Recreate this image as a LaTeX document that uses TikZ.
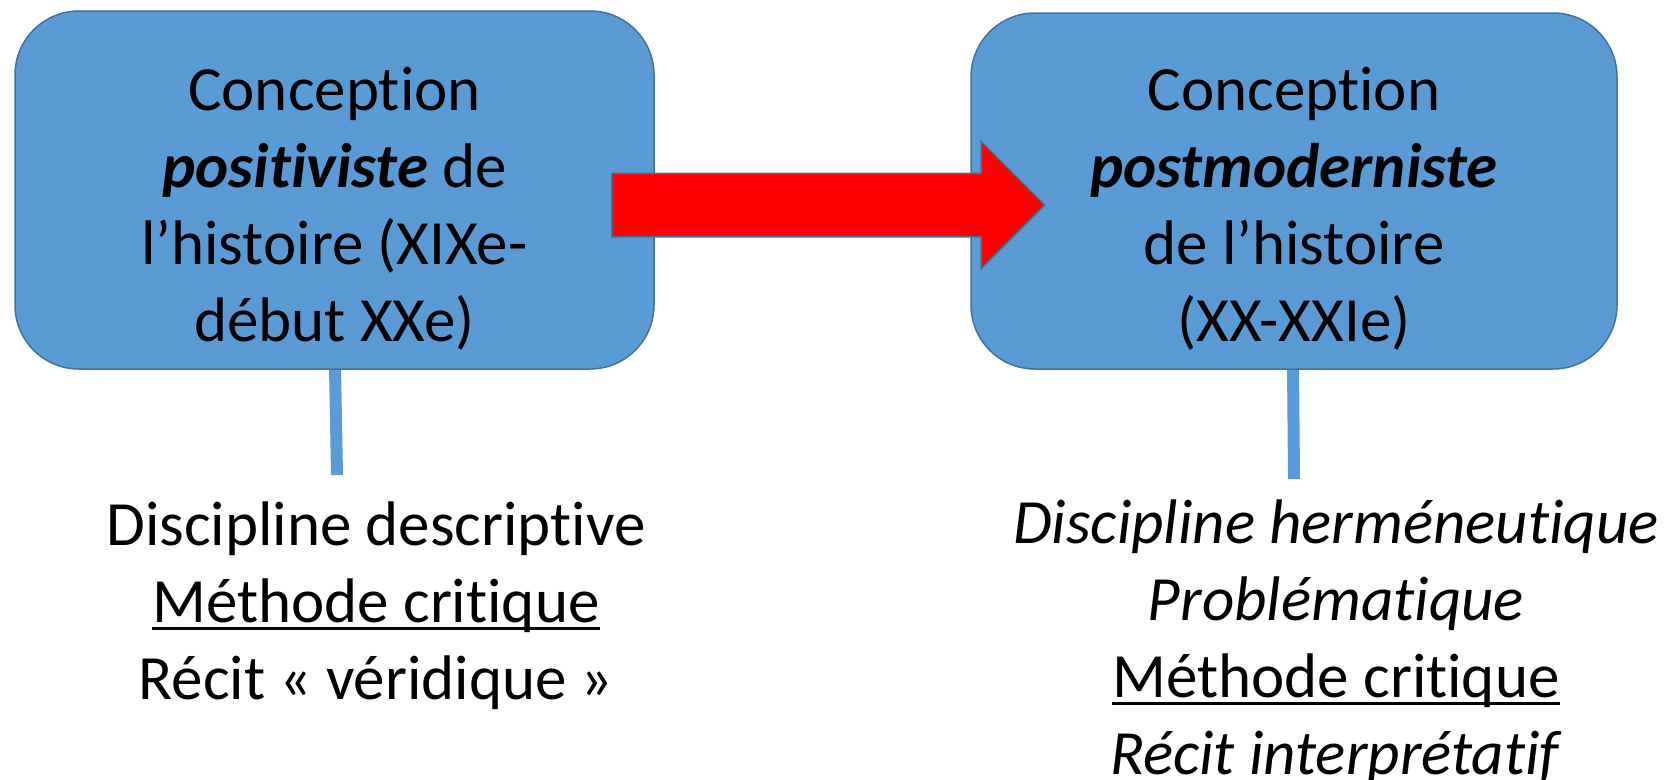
\documentclass[tikz,border=0pt]{standalone}
\usepackage{fontspec}
\setmainfont{Carlito}[Ligatures=NoCommon]
\usetikzlibrary{shapes.arrows}
\definecolor{boxblue}{HTML}{5B9BD5}
\definecolor{boxline}{HTML}{41719C}
% underline with a fixed offset and thickness
\newcommand\ulword[1]{\setbox0\hbox{#1}\rlap{\rule[-0.13em]{\wd0}{0.05em}}\box0}
\begin{document}
\begin{tikzpicture}[x=1pt,y=-1pt,
  panel/.style={draw=boxline, line width=1.5pt, fill=boxblue, rounded corners=64pt, inner sep=0pt},
  bigtext/.style={font=\fontsize{63}{77}\selectfont, align=center, anchor=north, inner sep=0pt},
  stem/.style={draw=boxblue, line width=12pt},
  bigarrow/.style={single arrow, draw=boxline, line width=1.5pt, fill=red,
    inner xsep=0pt, inner ysep=31pt, single arrow head extend=32pt,
    single arrow tip angle=90}]
\useasboundingbox (0,0) rectangle (1670,779);

% stems below the two panels
\coordinate (Lend) at (337,475);
\coordinate (Rend) at (1294,479);
\draw[stem] (335,366) -- (Lend);
\draw[stem] (1293,366) -- (Rend);

% the two panels
\node[panel, minimum width=639pt, minimum height=358pt] (L) at (334.5,190) {};
\node[panel, minimum width=646pt, minimum height=356pt] (R) at (1294,191) {};

\node[bigtext] (Ltxt) at (334.5,56) {\strut Conception\\ \textbf{\textit{positiviste}} de\\ l’histoire (XIXe-\\ début XXe)};
\node[bigtext] (Rtxt) at (1294,56) {\strut Conception\\ \textbf{\textit{postmoderniste}}\\ de l’histoire\\ (XX-XXIe)};

% block arrow between the panels
\node[bigarrow, minimum height=433pt, anchor=tail] (A) at (611,205) {};

% notes under the panels
\node[bigtext] (Lnotes) at (376,491) {\strut Discipline descriptive\\ \ulword{Méthode critique}\\ Récit « véridique »};
\node[bigtext] (Rnotes) at (1336,489) {\strut \textit{Discipline herméneutique}\\ \textit{Problématique}\\ \ulword{Méthode critique}\\ \textit{Récit interprétatif}};
\end{tikzpicture}
\end{document}
